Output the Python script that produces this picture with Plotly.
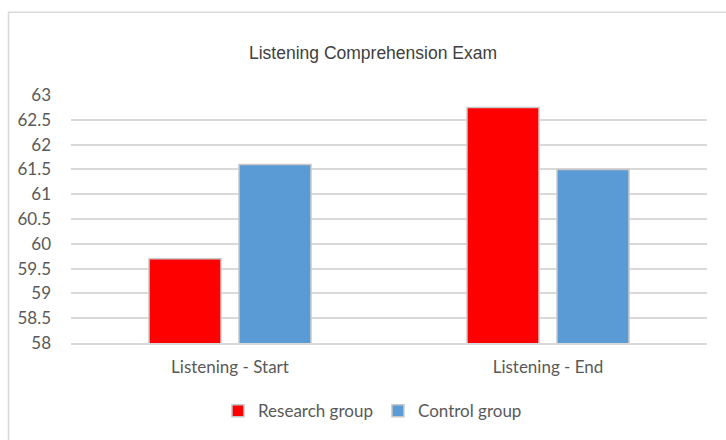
import plotly.graph_objects as go

categories = ["Listening - Start", "Listening - End"]
research_group = [59.7, 62.75]
control_group = [61.6, 61.5]
y_ticks = [58, 58.5, 59, 59.5, 60, 60.5, 61, 61.5, 62, 62.5, 63]
y_tick_text = ["58", "58.5", "59", "59.5", "60", "60.5", "61", "61.5", "62", "62.5", "63"]

tick_font = dict(family="Lato, Open Sans, sans-serif", size=17, color="#595959")

fig = go.Figure()
fig.add_trace(go.Bar(
    name="Research group", x=categories, y=research_group,
    marker=dict(color="#ff0000", line=dict(color="#c8c8c8", width=1.5)),
))
fig.add_trace(go.Bar(
    name="Control group", x=categories, y=control_group,
    marker=dict(color="#5b9bd5", line=dict(color="#c8c8c8", width=1.5)),
))

fig.update_layout(
    width=726, height=440,
    margin=dict(l=71, r=19, t=95, b=96),
    paper_bgcolor="white", plot_bgcolor="white",
    barmode="group", bargap=0.434, bargroupgap=0.2,
    title=dict(text="Listening Comprehension Exam", x=373 / 726, xanchor="center",
               y=1 - 53 / 440, yanchor="middle",
               font=dict(family="Liberation Sans, Arial, sans-serif", size=17.5, color="#404040")),
    showlegend=True,
    legend=dict(orientation="h", x=0.474, xanchor="center", y=-0.27, yanchor="middle",
                font=tick_font, itemwidth=30, traceorder="normal"),
    shapes=[dict(type="rect", xref="paper", yref="paper",
                 x0=(8.5 - 71) / 636, x1=(740 - 71) / 636,
                 y0=-0.5, y1=(344.3 - 11.5) / 249.6,
                 line=dict(color="#d9d9d9", width=1.5), fillcolor="rgba(0,0,0,0)", layer="below")],
)
fig.update_yaxes(range=[58, 63], tickvals=y_ticks, ticktext=y_tick_text,
                 showgrid=True, gridcolor="#d9d9d9", gridwidth=1.5,
                 zeroline=False, showline=False, tickfont=tick_font,
                 ticks="", ticklabelstandoff=19)
fig.update_xaxes(showline=True, linecolor="#d9d9d9", linewidth=1.5,
                 tickfont=tick_font, ticks="", ticklabelstandoff=8)

fig.write_html("out.html")
